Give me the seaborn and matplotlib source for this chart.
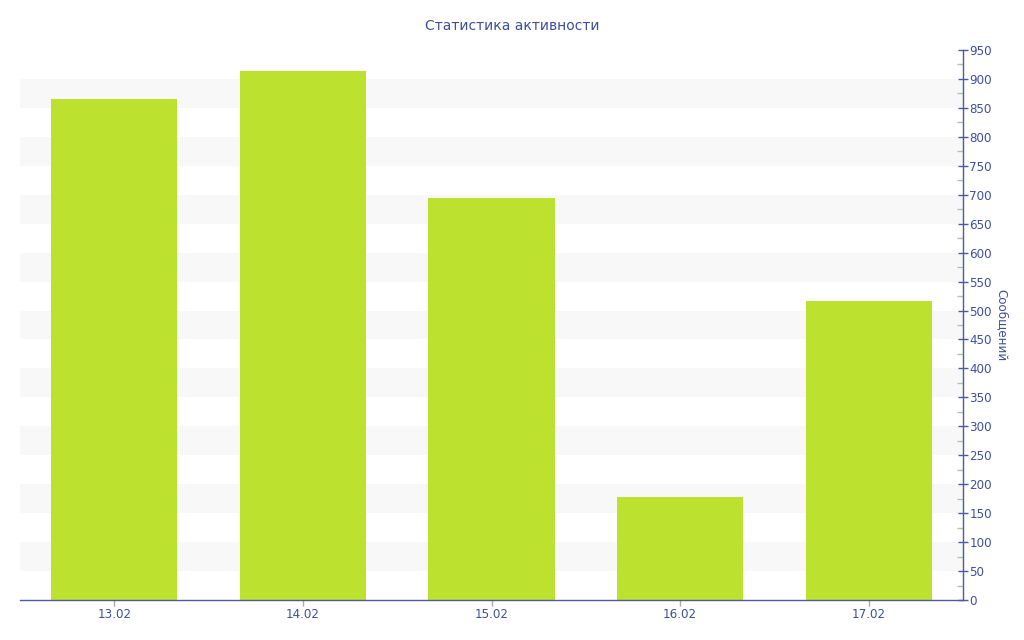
import matplotlib
matplotlib.use("Agg")
import matplotlib.pyplot as plt
import seaborn as sns
import pandas as pd
import numpy as np
from matplotlib.ticker import MultipleLocator

dates = ["13.02", "14.02", "15.02", "16.02", "17.02"]
messages = [866, 914, 694, 178, 517]
title = "Статистика активности"
ylabel = "Сообщений"

sns.set_theme(style="white")
plt.rcParams['font.family'] = ['DejaVu Sans']

text_c = "#3d4f9a"
axis_c = "#4a5aa6"
bar_c = "#bde12f"

df = pd.DataFrame({"date": dates, "messages": messages})

fig = plt.figure(figsize=(10.24, 6.4), dpi=100)
ax = fig.add_axes([20/1024, 40/640, 943/1024, 550/640])

for lo in range(50, 950, 100):
    ax.axhspan(lo, lo + 50, color="#f8f8f8", zorder=0, lw=0)

sns.barplot(data=df, x="date", y="messages", color=bar_c, width=0.67,
            saturation=1, ax=ax, zorder=2, edgecolor="none")

ax.set_xlim(-0.5, 4.5)
ax.set_ylim(0, 950)
ax.yaxis.tick_right()
ax.yaxis.set_label_position("right")
ax.yaxis.set_major_locator(MultipleLocator(50))
ax.yaxis.set_minor_locator(MultipleLocator(25))
ax.tick_params(axis="y", which="major", direction="inout", length=7, width=1,
               color=axis_c, labelcolor=text_c, labelsize=8.6, pad=1, right=True, left=False)
ax.tick_params(axis="y", which="minor", direction="in", length=4, width=1,
               color="#bbbbbb", right=True, left=False)
ax.tick_params(axis="x", which="major", direction="out", length=4, width=1,
               color="#aaaaaa", labelcolor=text_c, labelsize=8.6, pad=2, bottom=True)

for s in ["top", "left"]:
    ax.spines[s].set_visible(False)
ax.spines["right"].set_color(axis_c)
ax.spines["bottom"].set_color(axis_c)
ax.spines["right"].set_linewidth(1)
ax.spines["bottom"].set_linewidth(1)
ax.spines["right"].set_zorder(5)

ax.set_xlabel("")
ax.set_ylabel(ylabel, color=text_c, fontsize=8.6, rotation=270, labelpad=12)
ax.grid(False)

fig.suptitle(title, color=text_c, fontsize=10, x=0.5, y=0.97)

fig.savefig("out.png", dpi=100, facecolor="white")
